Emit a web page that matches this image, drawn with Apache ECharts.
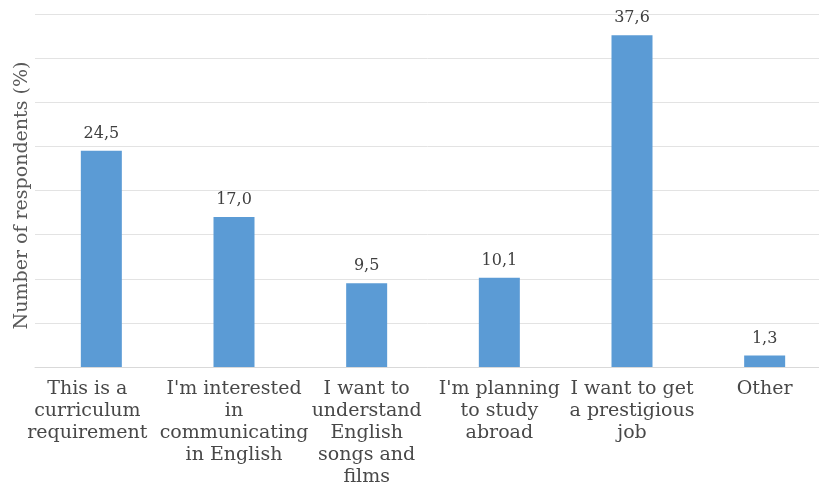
<!DOCTYPE html>
<html><head><meta charset="utf-8">
<script src="https://cdn.jsdelivr.net/npm/echarts@6/dist/echarts.min.js"></script>
<style>html,body{margin:0;padding:0;background:#fff}#c{width:819px;height:489px}</style>
</head><body><div id="c"></div>
<script>
const categories = ["This is a\ncurriculum\nrequirement","I'm interested\nin\ncommunicating\nin English","I want to\nunderstand\nEnglish\nsongs and\nfilms","I'm planning\nto study\nabroad","I want to get\na prestigious\njob","Other"];
const values = [24.5, 17.0, 9.5, 10.1, 37.6, 1.3];
const yAxisTitle = "Number of respondents (%)";
const chart = echarts.init(document.getElementById('c'));
const xData = categories.map((c, i) => i === 0 ? {value:c, textStyle:{padding:[0,28,0,0]}} : c);
chart.setOption({
  animation:false,
  grid:{left:35, top:14, width:796, bottom:122, containLabel:false, outerBoundsMode:'none'},
  xAxis:{type:'category', data:xData,
    axisLine:{lineStyle:{color:'#D9D9D9'}}, axisTick:{show:false},
    axisLabel:{interval:0, color:'#484848', fontFamily:'DejaVu Serif', fontSize:19, lineHeight:22, margin:11}},
  yAxis:{type:'value', min:0, max:40, interval:5, name:yAxisTitle, nameLocation:'middle', nameGap:3,
    nameTextStyle:{color:'#595959', fontFamily:'DejaVu Serif', fontSize:19, padding:[0,10,0,0]},
    axisLabel:{show:false}, axisLine:{show:false}, axisTick:{show:false},
    splitLine:{lineStyle:{color:'#E3E3E3'}}},
  series:[{type:'bar', data:values, barWidth:41, itemStyle:{color:'#5B9BD5'},
    label:{show:true, position:'top', distance:9, color:'#404040', fontFamily:'DejaVu Serif', fontSize:16,
      formatter:p=>p.value.toFixed(1).replace('.',',')}}]
});
</script></body></html>
